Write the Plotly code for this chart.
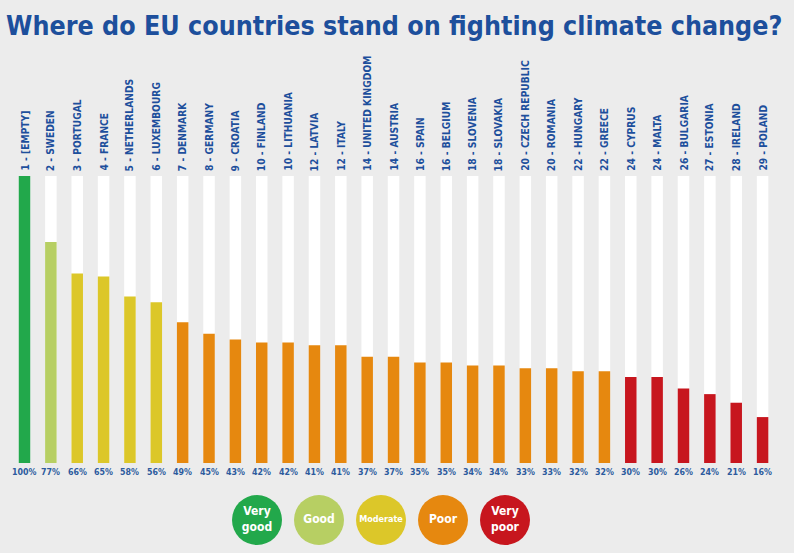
import plotly.graph_objects as go

# ---------------- data ----------------
ranks = [1, 2, 3, 4, 5, 6, 7, 8, 9, 10, 10, 12, 12, 14, 14, 16, 16, 18, 18,
         20, 20, 22, 22, 24, 24, 26, 27, 28, 29]
countries = ["[EMPTY]", "SWEDEN", "PORTUGAL", "FRANCE", "NETHERLANDS", "LUXEMBOURG",
             "DENMARK", "GERMANY", "CROATIA", "FINLAND", "LITHUANIA", "LATVIA", "ITALY",
             "UNITED KINGDOM", "AUSTRIA", "SPAIN", "BELGIUM", "SLOVENIA", "SLOVAKIA",
             "CZECH REPUBLIC", "ROMANIA", "HUNGARY", "GREECE", "CYPRUS", "MALTA",
             "BULGARIA", "ESTONIA", "IRELAND", "POLAND"]
scores = [100, 77, 66, 65, 58, 56, 49, 45, 43, 42, 42, 41, 41, 37, 37, 35, 35, 34, 34,
          33, 33, 32, 32, 30, 30, 26, 24, 21, 16]
ratings = ["Very good", "Good", "Moderate", "Moderate", "Moderate", "Moderate",
           "Poor", "Poor", "Poor", "Poor", "Poor", "Poor", "Poor", "Poor", "Poor",
           "Poor", "Poor", "Poor", "Poor", "Poor", "Poor", "Poor", "Poor",
           "Very poor", "Very poor", "Very poor", "Very poor", "Very poor", "Very poor"]
legend_labels = ["Very good", "Good", "Moderate", "Poor", "Very poor"]
legend_texts = ["Very<br>good", "Good", "Moderate", "Poor", "Very<br>poor"]
max_score = 100

# ---------------- style ----------------
W, H = 794, 553
BG = "#ececec"
BLUE = "#1d4f9c"
LABEL_BLUE = "#2d5b9e"
FONT = "DejaVu Sans Condensed, Roboto, sans-serif"
colors = {"Very good": "#22a84b", "Good": "#b7cf63", "Moderate": "#dcc729",
          "Poor": "#e6880f", "Very poor": "#c7161e"}
legend_fs = {"Very good": 12, "Good": 12, "Moderate": 9, "Poor": 12, "Very poor": 12}

# pixel geometry
first_c, step = 24.5, 26.36
bar_w = 11.5 / step
x0 = -first_c / step
x1 = x0 + W / step
base_px, top_px = 463, 176
ppu = (base_px - top_px) / max_score
y0 = -(H - base_px) / ppu
y1 = y0 + H / ppu

idx = list(range(len(countries)))

fig = go.Figure()
fig.add_trace(go.Bar(x=idx, y=[max_score] * len(idx), width=bar_w,
                     marker=dict(color="white", line=dict(width=0)),
                     hoverinfo="skip", showlegend=False))
fig.add_trace(go.Bar(x=idx, y=scores, width=bar_w,
                     marker=dict(color=[colors[r] for r in ratings], line=dict(width=0)),
                     showlegend=False))

lg_x = [257 + 62 * k for k in range(len(legend_labels))]
fig.add_trace(go.Scatter(
    x=lg_x, y=[H - 520] * len(lg_x), mode="markers+text",
    marker=dict(size=50, color=[colors[l] for l in legend_labels], line=dict(width=0)),
    text=["<b>%s</b>" % t for t in legend_texts], textposition="middle center",
    textfont=dict(family=FONT, color="white", size=[legend_fs[l] for l in legend_labels]),
    xaxis="x2", yaxis="y2", showlegend=False, hoverinfo="skip"))

annotations = [dict(text="<b>Where do EU countries stand on fighting climate change?</b>",
                    xref="paper", yref="paper", x=4 / W, y=1 - 8 / H,
                    xanchor="left", yanchor="top", showarrow=False,
                    font=dict(family=FONT, size=26.6, color=BLUE))]
for i, r, c, s in zip(idx, ranks, countries, scores):
    annotations.append(dict(text="<b>%d - %s</b>" % (r, c), x=i, y=max_score,
                            xref="x", yref="y", textangle=-90, xanchor="center",
                            yanchor="bottom", yshift=3, showarrow=False,
                            font=dict(family=FONT, size=10.2, color=BLUE)))
    annotations.append(dict(text="<b>%d%%</b>" % s, x=i, y=0, xref="x", yref="y",
                            xanchor="center", yanchor="top", yshift=-2, showarrow=False,
                            font=dict(family=FONT, size=8.8, color=LABEL_BLUE)))

fig.update_layout(
    width=W, height=H, margin=dict(l=0, r=0, t=0, b=0),
    paper_bgcolor=BG, plot_bgcolor="rgba(0,0,0,0)", barmode="overlay",
    xaxis=dict(range=[x0, x1], domain=[0, 1], visible=False, fixedrange=True),
    yaxis=dict(range=[y0, y1], domain=[0, 1], visible=False, fixedrange=True),
    xaxis2=dict(range=[0, W], domain=[0, 1], anchor="y2", visible=False, fixedrange=True),
    yaxis2=dict(range=[0, H], domain=[0, 1], anchor="x2", visible=False, fixedrange=True),
    annotations=annotations,
)

fig.write_html("out.html", config={"displayModeBar": False},
               post_script="document.body.style.margin='0';")
